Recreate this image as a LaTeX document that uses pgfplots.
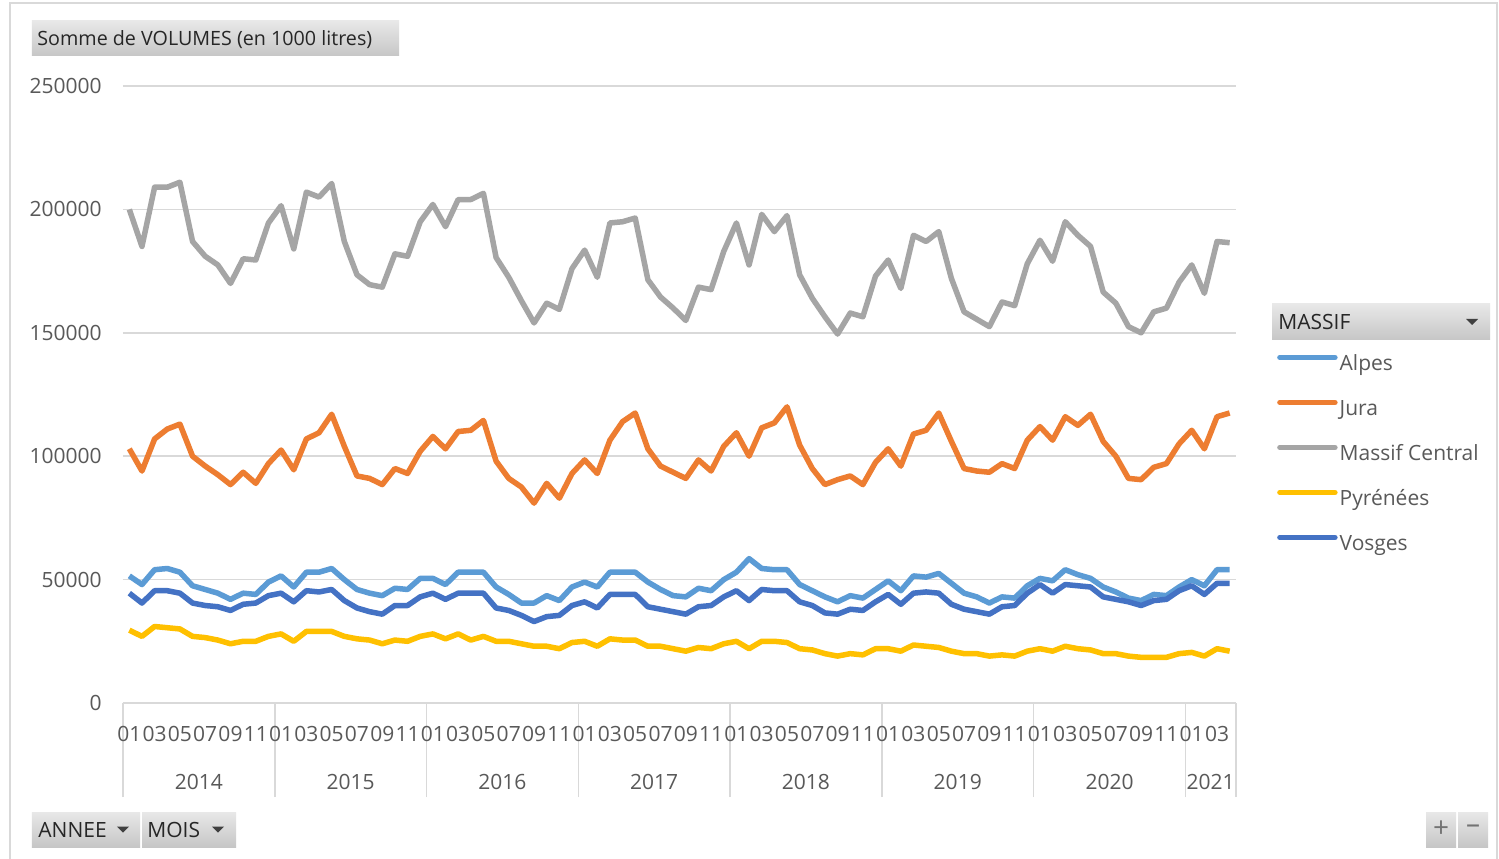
\documentclass[border=0pt]{standalone}
\usepackage{pgfplots}
\pgfplotsset{compat=1.18}
\usepackage{pgfplotstable}
\usepackage{fontspec}
\setmainfont{Open Sans}

\definecolor{alpes}{HTML}{5B9BD5}
\definecolor{jura}{HTML}{ED7D31}
\definecolor{central}{HTML}{A5A5A5}
\definecolor{pyr}{HTML}{FFC000}
\definecolor{vosges}{HTML}{4472C4}
\definecolor{gridgray}{HTML}{D9D9D9}
\definecolor{labelgray}{HTML}{595959}
\definecolor{btntop}{HTML}{E8E8E8}
\definecolor{btnbot}{HTML}{C6C6C6}

\newcommand{\lbl}{\fontsize{10.5bp}{12bp}\selectfont}

% monthly volumes (1000 l), jan 2014 .. apr 2021
\pgfplotstableread{
i alpes jura central pyr vosges
0 51500 103000 200000 29500 44500
1 48000 94000 185000 27000 40500
2 54000 107000 209000 31000 45500
3 54500 111000 209000 30500 45500
4 53000 113000 211000 30000 44500
5 47500 100000 187000 27000 40500
6 46000 96000 181000 26500 39500
7 44500 92500 177500 25500 39000
8 42000 88500 170000 24000 37500
9 44500 93500 180000 25000 40000
10 44000 89000 179500 25000 40500
11 49000 97000 194500 27000 43500
12 51500 102500 201500 28000 44500
13 47000 94500 184000 25000 41000
14 53000 107000 207000 29000 45500
15 53000 109500 205000 29000 45000
16 54500 117000 210500 29000 46000
17 50000 104000 187000 27000 41500
18 46000 92000 173500 26000 38500
19 44500 91000 169500 25500 37000
20 43500 88500 168500 24000 36000
21 46500 95000 182000 25500 39500
22 46000 93000 181000 25000 39500
23 50500 102000 195000 27000 43000
24 50500 108000 202000 28000 44500
25 48000 103000 193000 26000 42000
26 53000 110000 204000 28000 44500
27 53000 110500 204000 25500 44500
28 53000 114500 206500 27000 44500
29 47000 98000 180500 25000 38500
30 44000 91000 172500 25000 37500
31 40500 87500 163000 24000 35500
32 40500 81000 154000 23000 33000
33 43500 89000 162000 23000 35000
34 41500 83000 159500 22000 35500
35 47000 93000 176000 24500 39500
36 49000 98500 183500 25000 41000
37 47000 93000 172500 23000 38500
38 53000 106500 194500 26000 44000
39 53000 114000 195000 25500 44000
40 53000 117500 196500 25500 44000
41 49000 103000 171500 23000 39000
42 46000 96000 164500 23000 38000
43 43500 93500 160000 22000 37000
44 43000 91000 155000 21000 36000
45 46500 98500 168500 22500 39000
46 45500 94000 167500 22000 39500
47 50000 104000 183000 24000 43000
48 53000 109500 194500 25000 45500
49 58500 100000 177500 22000 41500
50 54500 111500 198000 25000 46000
51 54000 113500 191000 25000 45500
52 54000 120000 197500 24500 45500
53 48000 104500 173500 22000 41000
54 45500 95000 164000 21500 39500
55 43000 88500 156500 20000 36500
56 41000 90500 149500 19000 36000
57 43500 92000 158000 20000 38000
58 42500 88500 156500 19500 37500
59 46000 97500 173000 22000 41000
60 49500 103000 179500 22000 44000
61 45500 96000 168000 21000 40000
62 51500 109000 189500 23500 44500
63 51000 110500 187000 23000 45000
64 52500 117500 191000 22500 44500
65 48500 106000 172000 21000 40000
66 44500 95000 158500 20000 38000
67 43000 94000 155500 20000 37000
68 40500 93500 152500 19000 36000
69 43000 97000 162500 19500 39000
70 42500 95000 161000 19000 39500
71 47500 106500 178000 21000 44500
72 50500 112000 187500 22000 48000
73 49500 106500 179000 21000 44500
74 54000 116000 195000 23000 48000
75 52000 112500 189500 22000 47500
76 50500 117000 185000 21500 47000
77 47000 106000 166500 20000 43000
78 45000 100000 162000 20000 42000
79 42500 91000 152500 19000 41000
80 41500 90500 150000 18500 39500
81 44000 95500 158500 18500 41500
82 43500 97000 160000 18500 42000
83 47000 105000 170500 20000 45500
84 50000 110500 177500 20500 47500
85 47500 103000 166000 19000 44000
86 54000 116000 187000 22000 48500
87 54000 117500 186500 21000 48500
}\volumes

\begin{document}
\begin{tikzpicture}
\useasboundingbox (-61.5bp,-78bp) rectangle (688bp,351.5bp);
\fill[white] (-61.5bp,-78bp) rectangle (688bp,351.5bp);
\draw[gridgray, line width=0.75bp] (-56.5bp,-85bp) -- (-56.5bp,350bp) -- (687bp,350bp) -- (687bp,-85bp);

\begin{axis}[
  scale only axis, width=556.5bp, height=308.5bp,
  at={(0,0)}, anchor=south west,
  xmin=-0.5, xmax=87.5, ymin=0, ymax=250000,
  axis line style={draw=none},
  ymajorgrids, major grid style={gridgray, line width=0.75bp},
  ytick={0,50000,100000,150000,200000,250000},
  scaled y ticks=false,
  yticklabel style={/pgf/number format/fixed, /pgf/number format/1000 sep={},
    anchor=east, inner sep=0pt, xshift=-10.5bp},
  xtick={0,2,...,86},
  xticklabels={01,03,05,07,09,11,01,03,05,07,09,11,01,03,05,07,09,11,
    01,03,05,07,09,11,01,03,05,07,09,11,01,03,05,07,09,11,
    01,03,05,07,09,11,01,03},
  xticklabel style={anchor=base, inner sep=0pt, yshift=-19.25bp},
  minor xtick={-0.5,11.5,23.5,35.5,47.5,59.5,71.5,83.5,87.5},
  minor tick length=47bp, major tick length=0pt, tick align=outside,
  minor tick style={gridgray, line width=0.75bp},
  xtick pos=bottom, ytick pos=left,
  extra x ticks={5.5,17.5,29.5,41.5,53.5,65.5,77.5,85.5},
  extra x tick labels={2014,2015,2016,2017,2018,2019,2020,2021},
  extra x tick style={major tick length=0pt, xticklabel style={yshift=-24bp}},
  tick label style={font=\lbl, text=labelgray},
  /pgf/number format/assume math mode=true,
  every axis plot/.append style={line width=2.75bp, line join=round, no markers},
  legend cell align=left,
  legend image code/.code={\draw[#1, line cap=round] (0bp,3.8bp) -- (27.5bp,3.8bp);},
  legend style={at={(axis description cs:1.037,0.5647)}, anchor=north west,
    draw=none, fill=none, inner sep=0pt, outer sep=0pt,
    row sep=12bp, column sep=1bp, font=\lbl, text=labelgray,
    nodes={inner sep=0pt, text height=8bp, text depth=2.5bp}},
]
\addplot[alpes] table[x=i, y=alpes] {\volumes};
\addlegendentry{Alpes}
\addplot[jura] table[x=i, y=jura] {\volumes};
\addlegendentry{Jura}
\addplot[central] table[x=i, y=central] {\volumes};
\addlegendentry{Massif Central}
\addplot[pyr] table[x=i, y=pyr] {\volumes};
\addlegendentry{Pyrénées}
\addplot[vosges] table[x=i, y=vosges] {\volumes};
\addlegendentry{Vosges}
\end{axis}

% pivot field buttons
\shade[top color=btntop, bottom color=btnbot] (-45.5bp,323.5bp) rectangle (138bp,341bp);
\node[anchor=west, inner sep=0pt, font=\fontsize{9.85bp}{12bp}\selectfont, text=black!85] at (-43bp,331.6bp) {Somme de VOLUMES (en 1000 litres)};

\shade[top color=btntop, bottom color=btnbot] (574.5bp,181.5bp) rectangle (683.5bp,199.5bp);
\node[anchor=west, inner sep=0pt, font=\lbl, text=black!85] at (577.5bp,190.5bp) {MASSIF};
\fill[black!75] (671.5bp,192bp) -- (677.5bp,192bp) -- (674.5bp,189bp) -- cycle;

\shade[top color=btntop, bottom color=btnbot] (-45.5bp,-72bp) rectangle (8.5bp,-54.5bp);
\node[anchor=west, inner sep=0pt, font=\lbl, text=black!85] at (-42.5bp,-63.25bp) {ANNEE};
\fill[black!75] (-3bp,-61.75bp) -- (3bp,-61.75bp) -- (0bp,-64.75bp) -- cycle;

\shade[top color=btntop, bottom color=btnbot] (9.5bp,-72bp) rectangle (56.5bp,-54.5bp);
\node[anchor=west, inner sep=0pt, font=\lbl, text=black!85] at (12bp,-63.25bp) {MOIS};
\fill[black!75] (44.5bp,-61.75bp) -- (50.5bp,-61.75bp) -- (47.5bp,-64.75bp) -- cycle;

\shade[top color=btntop, bottom color=btnbot] (651.5bp,-72bp) rectangle (666.5bp,-54.5bp);
\node[inner sep=0pt, font=\fontsize{14bp}{14bp}\selectfont, text=black!55] at (659bp,-63.25bp) {+};
\shade[top color=btntop, bottom color=btnbot] (667.5bp,-72bp) rectangle (682.5bp,-54.5bp);
\node[inner sep=0pt, font=\fontsize{14bp}{14bp}\selectfont, text=black!55] at (675bp,-63.25bp) {–};
\end{tikzpicture}
\end{document}
